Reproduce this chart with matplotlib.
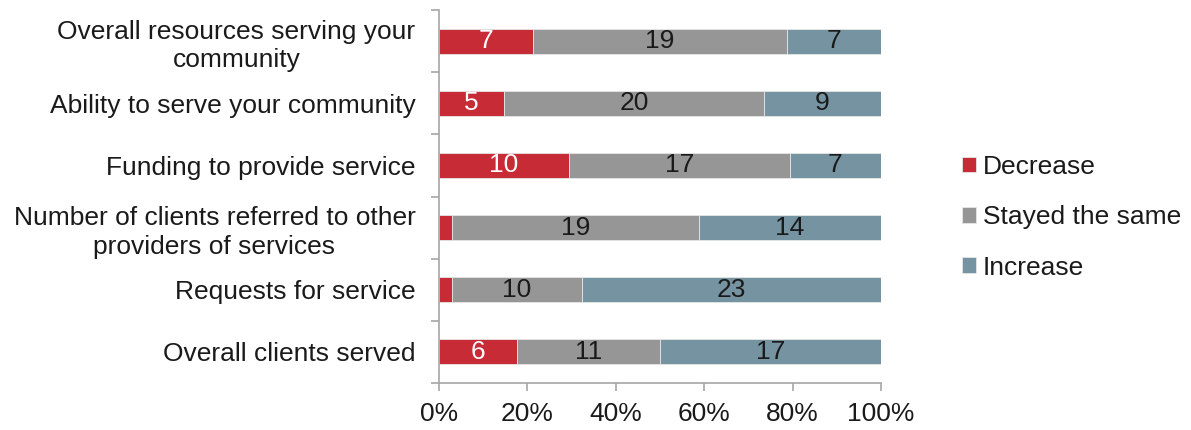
import matplotlib
matplotlib.use("Agg")
import matplotlib.pyplot as plt
import numpy as np

plt.rcParams['font.family'] = ['Liberation Sans', 'DejaVu Sans']

categories = [
    "Overall resources serving your\ncommunity",
    "Ability to serve your community",
    "Funding to provide service",
    "Number of clients referred to other\nproviders of services",
    "Requests for service",
    "Overall clients served",
]
decrease = [7, 5, 10, 1, 1, 6]
same = [19, 20, 17, 19, 10, 11]
increase = [7, 9, 7, 14, 23, 17]

series = [("Decrease", decrease, "#C62B36", "white"),
          ("Stayed the same", same, "#969696", "#1a1a1a"),
          ("Increase", increase, "#7593A1", "#1a1a1a")]

FS = 19

fig = plt.figure(figsize=(11.91, 4.30), dpi=100)
ax = fig.add_axes([0.3686, 0.1093, 0.3711, 0.8674])

totals = np.array(decrease) + np.array(same) + np.array(increase)
y = np.arange(len(categories))
left = np.zeros(len(categories))
handles = []
for name, vals, color, tcolor in series:
    vals = np.array(vals, dtype=float)
    w = vals / totals
    bars = ax.barh(y, w, left=left, height=0.4, color=color,
                   edgecolor="#e6e6e6", linewidth=0.6, label=name)
    handles.append(bars)
    for yi, li, wi, v in zip(y, left, w, vals):
        if wi > 0.05:
            ax.text(li + wi / 2, yi, f"{int(v)}", ha="center", va="center",
                    fontsize=FS, color=tcolor)
    left += w

ax.set_xlim(0, 1)
ax.set_ylim(len(categories) - 0.5, -0.5)
ax.set_xticks(np.linspace(0, 1, 6))
ax.set_xticklabels([f"{int(p)}%" for p in np.linspace(0, 100, 6)], fontsize=FS,
                   color="#1a1a1a")
ax.set_yticks(y)
ax.set_yticklabels(categories, fontsize=FS, multialignment="center",
                   color="#1a1a1a", linespacing=1.25)
ax.set_yticks(np.arange(-0.5, len(categories)), minor=True)
ax.tick_params(axis="y", which="major", length=0, pad=17)
ax.tick_params(axis="y", which="minor", length=6, color="#A6A6A6", width=1.2)
ax.tick_params(axis="x", which="major", length=6, color="#A6A6A6", width=1.2,
               pad=8)

for s in ["top", "right"]:
    ax.spines[s].set_visible(False)
for s in ["left", "bottom"]:
    ax.spines[s].set_color("#A6A6A6")
    ax.spines[s].set_linewidth(1.2)

leg = fig.legend(handles=handles, loc="center left", bbox_to_anchor=(0.8077, 0.495),
                 frameon=False, fontsize=FS, handlelength=0.53, handleheight=0.53,
                 handletextpad=0.27, labelspacing=1.0, borderpad=0,
                 borderaxespad=0, labelcolor="#1a1a1a")

fig.savefig("out.png", dpi=100)
